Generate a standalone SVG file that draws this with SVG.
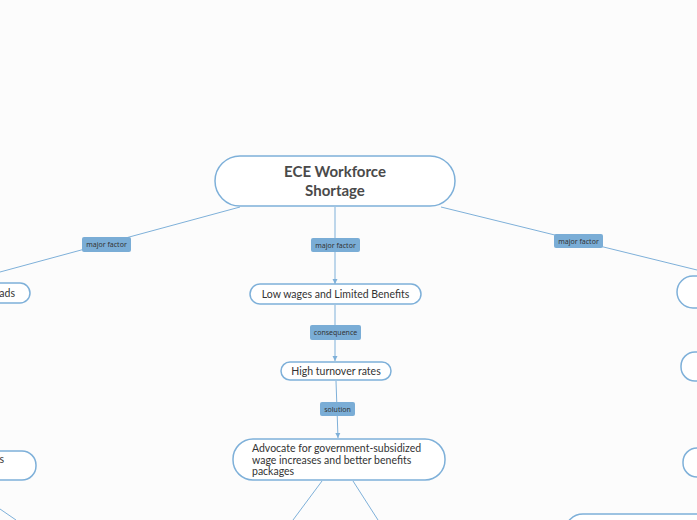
<svg xmlns="http://www.w3.org/2000/svg" width="697" height="520" viewBox="0 0 697 520">
<defs>
<style>
.node{fill:#ffffff;stroke:#7eb0d9;stroke-width:1.5}
.edge{fill:none;stroke:#7eb0d9;stroke-width:1}
.lbl{fill:#7aadd6;stroke:none}
.lt{font-family:"Noto Sans","DejaVu Sans",sans-serif;font-size:7px;fill:#333;text-anchor:middle}
.t{font-family:"Lato","Noto Sans",sans-serif;font-size:10.5px;fill:#333}
.title{font-family:"Lato","Noto Sans",sans-serif;font-size:15px;font-weight:bold;fill:#4a4a4a;text-anchor:middle}
</style>
<marker id="arr" viewBox="0 0 6 6" refX="5" refY="3" markerWidth="6" markerHeight="6" orient="auto" markerUnits="userSpaceOnUse">
<path d="M0,0.5 L5,3 L0,5.5 Z" fill="#7eb0d9"/>
</marker>
</defs>
<rect width="697" height="520" fill="#fcfcfc"/>
<g id="connectors">
<path class="edge" d="M240,207 L0,272"/>
<path class="edge" d="M441,207 L697,270"/>
<path class="edge" d="M335,207 L335,284" marker-end="url(#arr)"/>
<path class="edge" d="M335,305 L335,361" marker-end="url(#arr)"/>
<path class="edge" d="M336,381 L338,438" marker-end="url(#arr)"/>
<path class="edge" d="M322,481 L293,520"/>
<path class="edge" d="M353,481 L378,520"/>
<path class="edge" d="M0,509 L16,520"/>
<rect class="lbl" x="82" y="237" width="49" height="15" rx="2"/>
<text class="lt" x="106.5" y="247">major factor</text>
<rect class="lbl" x="311" y="238" width="49" height="14" rx="2"/>
<text class="lt" x="335.5" y="247.5">major factor</text>
<rect class="lbl" x="554" y="234" width="49" height="14" rx="2"/>
<text class="lt" x="578.5" y="243.5">major factor</text>
<rect class="lbl" x="310" y="325" width="51" height="15" rx="2"/>
<text class="lt" x="335.5" y="335">consequence</text>
<rect class="lbl" x="320" y="402" width="35" height="14" rx="2"/>
<text class="lt" x="337.5" y="411.5">solution</text>
</g>
<g id="root">
<rect class="node" x="215" y="156" width="240" height="50" rx="25" stroke-width="2"/>
<text class="title" x="335" y="177">ECE Workforce</text>
<text class="title" x="335" y="196">Shortage</text>
</g>
<g id="low-wages">
<rect class="node" x="250" y="284" width="171" height="20" rx="10"/>
<text class="t" x="335.5" y="298" text-anchor="middle">Low wages and Limited Benefits</text>
</g>
<g id="turnover">
<rect class="node" x="281" y="362" width="110" height="18" rx="9"/>
<text class="t" x="336" y="375" text-anchor="middle">High turnover rates</text>
</g>
<g id="advocate">
<rect class="node" x="233" y="439" width="212" height="41" rx="20"/>
<text class="t" x="252" y="452" font-size="9.2">Advocate for government-subsidized</text>
<text class="t" x="252" y="464" font-size="9.2">wage increases and better benefits</text>
<text class="t" x="252" y="475" font-size="9.2">packages</text>
</g>
<g id="left-workloads">
<rect class="node" x="-60" y="283" width="90" height="20" rx="10"/>
<text class="t" x="15" y="297" text-anchor="end">ads</text>
</g>
<g id="left-node-2">
<rect class="node" x="-80" y="451" width="116" height="29" rx="14"/>
<text class="t" x="4" y="463" text-anchor="end">s</text>
</g>
<g id="right-node-1">
<rect class="node" x="677" y="276" width="80" height="32" rx="16"/>
</g>
<g id="right-node-2">
<rect class="node" x="681" y="352" width="80" height="29" rx="14"/>
</g>
<g id="right-node-3">
<rect class="node" x="683" y="448" width="80" height="29" rx="14"/>
</g>
<g id="right-node-4">
<rect class="node" x="565" y="514" width="200" height="40" rx="18"/>
</g>
</svg>
